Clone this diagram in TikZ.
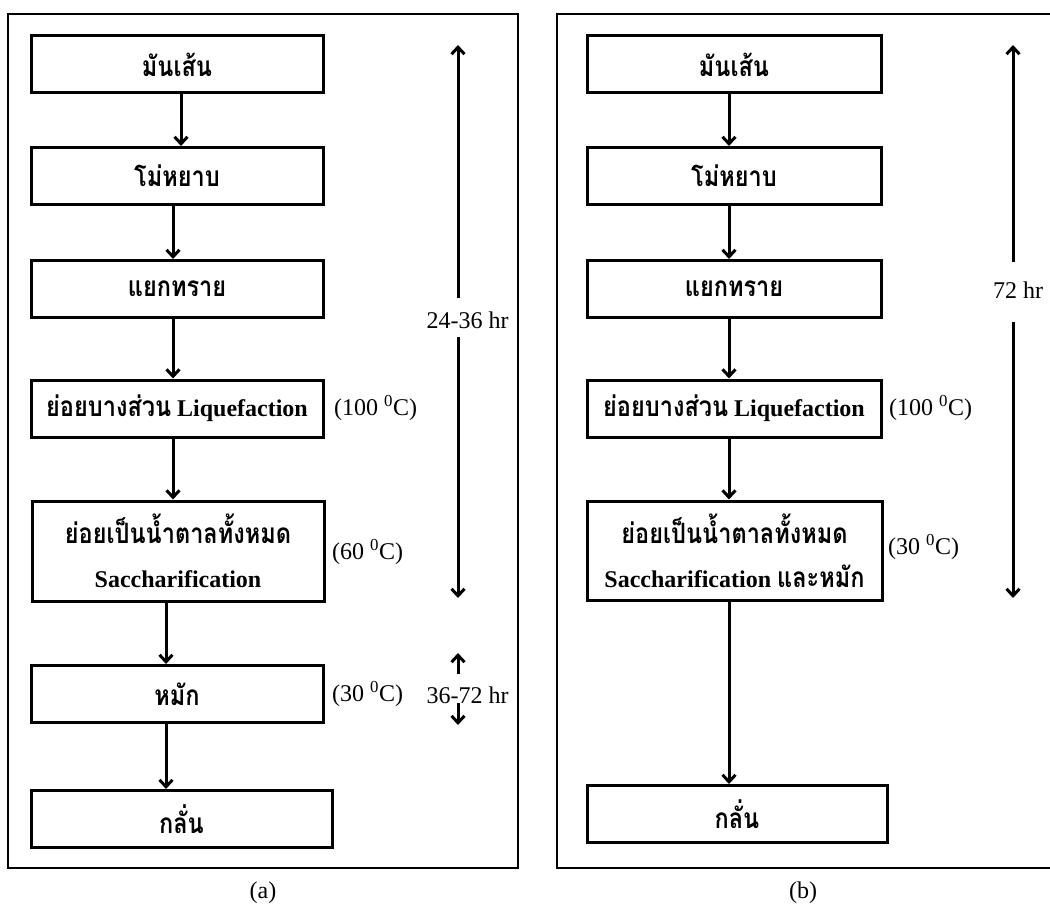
\documentclass[tikz,border=0pt]{standalone}
\usepackage{fontspec}
\setmainfont{Liberation Serif}
\newfontfamily\thaifont[Script=Thai,FakeStretch=0.84]{Loma}
\usetikzlibrary{arrows.meta}

% Thai words inside the bold step boxes
\newcommand{\thw}[1]{{\thaifont\fontsize{28}{30}\selectfont\bfseries #1}}
\newcommand{\degc}[1]{(#1 \textsuperscript{0}C)}

\tikzset{
  stepbox/.style={draw, line width=3pt, minimum width=292pt, minimum height=57pt,
    inner sep=0pt, align=center, font=\fontsize{24}{28}\selectfont\bfseries},
  flow/.style={line width=3pt, -{Straight Barb[length=7pt,width=13pt]}},
  timeline/.style={line width=3pt, -{Straight Barb[length=7pt,width=13pt]}},
  framebox/.style={line width=2.6pt},
  note/.style={inner sep=0pt, font=\fontsize{24}{28}\selectfont},
}

\begin{document}
\begin{tikzpicture}[x=1pt,y=-1pt]
\useasboundingbox (0,0) rectangle (1050,907);

% ---------------- panel (a) ----------------
\draw[framebox] (8,14) rectangle (518,868);

\node[stepbox] (a1) at (177,64.5) {\thw{มันเส้น}};
\node[stepbox] (a2) at (177,176) {\thw{โม่หยาบ}};
\node[stepbox] (a3) at (177,289) {\thw{แยกทราย}};
\node[stepbox] (a4) at (177,408.5) {\thw{ย่อยบางส่วน} Liquefaction};
\node[stepbox, minimum height=100pt] (a5) at (178,551)
  {\thw{ย่อยเป็นน้ำตาลทั้งหมด}\\[16pt] Saccharification};
\node[stepbox] (a6) at (177,694) {\thw{หมัก}};
\node[stepbox, minimum width=301pt] (a7) at (181.5,819) {\thw{กลั่น}};

\draw[flow] ([xshift=4pt]a1.south) -- ([xshift=4pt]a2.north);
\draw[flow] ([xshift=-4pt]a2.south) -- ([xshift=-4pt]a3.north);
\draw[flow] ([xshift=-4pt]a3.south) -- ([xshift=-4pt]a4.north);
\draw[flow] ([xshift=-4pt]a4.south) -- ([xshift=-5pt]a5.north);
\draw[flow] ([xshift=-12pt]a5.south) -- ([xshift=-11pt]a6.north);
\draw[flow] ([xshift=-11pt]a6.south) -- ([xshift=-15.5pt]a7.north);

\node[note, anchor=west] (ta4) at (334,408) {\degc{100}};
\node[note, anchor=west] (ta5) at (332,552) {\degc{60}};
\node[note, anchor=west] (ta6) at (332,694) {\degc{30}};

\node[note] (ha) at (467.5,320) {24-36 hr};
\coordinate (ha-up-s) at (458,298);
\coordinate (ha-up-e) at (458,45);
\coordinate (ha-dn-s) at (458,337);
\coordinate (ha-dn-e) at (458,598);
\draw[timeline] (ha-up-s) -- (ha-up-e);
\draw[timeline] (ha-dn-s) -- (ha-dn-e);

\node[note] (hb) at (467.5,695) {36-72 hr};
\coordinate (hb-up-s) at (458,674);
\coordinate (hb-up-e) at (458,653);
\coordinate (hb-dn-s) at (458,703);
\coordinate (hb-dn-e) at (458,725);
\draw[timeline] (hb-up-s) -- (hb-up-e);
\draw[timeline] (hb-dn-s) -- (hb-dn-e);

\node[note] (capa) at (263,893) {(a)};

% ---------------- panel (b) ----------------
\draw[framebox] (1052,14) -- (557,14) -- (557,868) -- (1052,868);

\node[stepbox, minimum width=294pt] (b1) at (734,64.5) {\thw{มันเส้น}};
\node[stepbox, minimum width=294pt] (b2) at (734,176) {\thw{โม่หยาบ}};
\node[stepbox, minimum width=294pt] (b3) at (734,289) {\thw{แยกทราย}};
\node[stepbox, minimum width=294pt] (b4) at (734,408.5) {\thw{ย่อยบางส่วน} Liquefaction};
\node[stepbox, minimum width=295pt, minimum height=99pt] (b5) at (734.5,550.5)
  {\thw{ย่อยเป็นน้ำตาลทั้งหมด}\\[16pt] Saccharification \thw{และหมัก}};
\node[stepbox, minimum width=300pt] (b6) at (737,814) {\thw{กลั่น}};

\draw[flow] ([xshift=-5pt]b1.south) -- ([xshift=-5pt]b2.north);
\draw[flow] ([xshift=-5pt]b2.south) -- ([xshift=-5pt]b3.north);
\draw[flow] ([xshift=-5pt]b3.south) -- ([xshift=-5pt]b4.north);
\draw[flow] ([xshift=-5pt]b4.south) -- ([xshift=-5.5pt]b5.north);
\draw[flow] ([xshift=-5.5pt]b5.south) -- ([xshift=-8pt]b6.north);

\node[note, anchor=west] (tb4) at (889,408) {\degc{100}};
\node[note, anchor=west] (tb5) at (888,547) {\degc{30}};

\node[note] (hc) at (1018,290) {72 hr};
\coordinate (hc-up-s) at (1013,262);
\coordinate (hc-up-e) at (1013,45);
\coordinate (hc-dn-s) at (1013,322);
\coordinate (hc-dn-e) at (1013,598);
\draw[timeline] (hc-up-s) -- (hc-up-e);
\draw[timeline] (hc-dn-s) -- (hc-dn-e);

\node[note] (capb) at (803,893) {(b)};
\end{tikzpicture}
\end{document}
